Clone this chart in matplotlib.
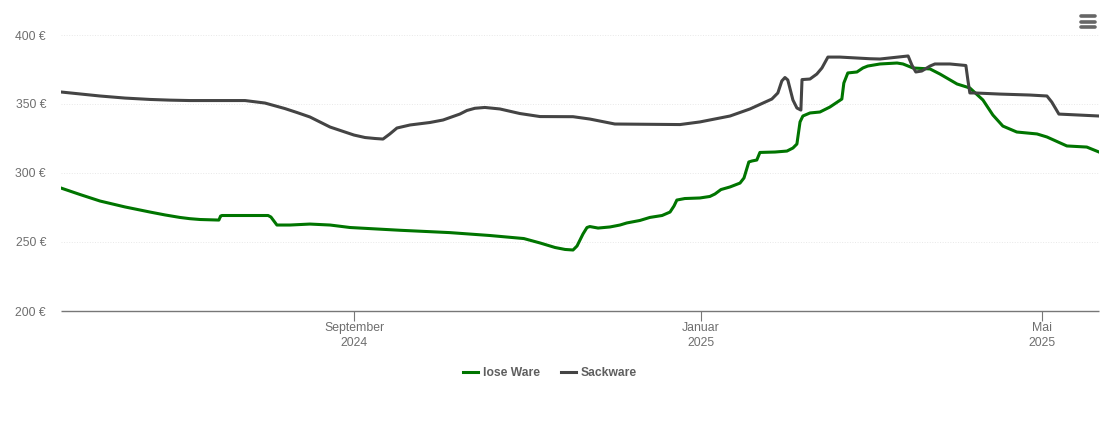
"""
plot.py

Price history for loose and bagged goods over one year.
"""
import datetime

import numpy as np
from matplotlib import pyplot as plt
from matplotlib import dates as mdates
from matplotlib.lines import Line2D

plt.rcParams["font.family"] = ["Liberation Sans", "DejaVu Sans"]

start_date = datetime.date(2024, 5, 21)

lose_days = [
    0, 6.7, 13.7, 22.5, 31.3, 36.6, 41.8, 45.3, 48.9, 55.5, 56.1, 56.6, 72.8, 73.8, 75.9, 80.5, 87.5, 94.6,
    101.6, 119.2, 136.7, 150.8, 162.7, 168.4, 173.7, 177.2, 180, 181.4, 183.5, 184.9,
    185.9, 188.8, 193, 196.5, 198.9, 203.5, 207, 211.3, 214.1, 215.5, 216.5, 219.3,
    224.6, 228.1, 229.9, 232, 235.2, 238.7, 240.1, 241.8, 242.9, 244.6, 245.7, 251,
    255.2, 257.3, 258.7, 259.8, 260.8, 263.3, 266.8, 270.3, 274.5, 275.2, 276.6, 279.8,
    281.9, 283.6, 287.9, 293.9, 296, 299.5, 305.5, 309, 315, 319.5, 324.1, 327.6,
    331.1, 336, 343.1, 346.6, 353.6, 360.6, 364.9,
]
lose_prices = [
    289.1, 284.4, 279.7, 275.4, 271.7, 269.6, 267.8, 266.9, 266.3, 265.9, 268.8, 269.2, 269.2, 268.1, 262.3, 262.3, 263.0, 262.3,
    260.5, 258.5, 256.8, 254.7, 252.5, 249.3, 246.0, 244.6, 244.2, 247.1, 255.8, 260.5,
    261.2, 260.1, 260.9, 262.3, 263.8, 265.6, 267.8, 269.2, 271.7, 276.1, 280.4, 281.5,
    281.9, 283.0, 284.8, 288.0, 289.9, 292.7, 296.4, 308.0, 308.7, 309.4, 314.9, 315.2,
    315.9, 318.1, 321.0, 337.0, 341.3, 343.5, 344.2, 347.8, 353.6, 365.2, 372.5, 373.2,
    376.1, 377.5, 379.0, 379.7, 379.0, 376.1, 375.4, 371.7, 364.5, 361.6, 352.9, 342.0,
    334.0, 329.7, 328.3, 326.1, 319.6, 318.8, 315.2,
]

sack_days = [
    0, 13.7, 22.5, 31.3, 38.3, 45.3, 64.7, 71.7, 78.7, 83, 87.5, 91, 94.6, 98.8, 103, 106.9, 110.4, 113.2, 115.6, 118.1,
    122.7, 129.7, 134.3, 140.2, 142.7, 145.5, 149, 154.3, 161.3, 168.4, 180, 185.9, 194.7,
    217.6, 224.6, 235.2, 242.2, 249.9, 252, 253.4, 254.5, 255.5, 257.3, 258.7, 260.1,
    260.5, 263.3, 265.7, 267.5, 269.6, 273.8, 284.4, 287.9, 297.8, 299.1, 300.5, 302.6,
    305.5, 307.2, 312.5, 318.1, 318.8, 319.5, 321.3, 330, 340.6, 346.6, 348.3, 350.8, 364.9,
]
sack_prices = [
    358.7, 355.8, 354.3, 353.3, 352.8, 352.5, 352.5, 350.7, 346.7, 343.8, 340.6, 337.0, 333.3, 330.4, 327.5, 325.7, 325.0, 324.6, 328.3, 332.6,
    334.8, 336.6, 338.4, 342.7, 345.3, 346.9, 347.5, 346.4, 343.1, 340.9, 340.8, 339.1, 335.5,
    335.1, 337.0, 341.3, 346.4, 353.6, 358.0, 366.7, 369.2, 367.4, 352.9, 347.1, 345.6,
    367.7, 368.1, 371.7, 376.1, 384.0, 384.0, 382.8, 382.6, 384.8, 378.3, 373.2, 373.9,
    377.5, 379.0, 379.0, 377.9, 367.4, 358.0, 358.0, 357.2, 356.5, 355.8, 351.4, 342.7, 341.3,
]

y_ticks = [200, 250, 300, 350, 400]
x_tick_dates = [datetime.date(2024, 9, 1), datetime.date(2025, 1, 1), datetime.date(2025, 5, 1)]
x_tick_labels = ["September\n2024", "Januar\n2025", "Mai\n2025"]

GREEN = "#007500"
DARK = "#444444"
TEXT = "#6e6e6e"
W, H = 1110, 422

if __name__ == "__main__":
    fig = plt.figure(figsize=(W / 100, H / 100), dpi=100)
    ax = fig.add_axes([61 / W, 1 - 311 / H, (1099 - 61) / W, (311 - 35) / H])

    start_num = mdates.date2num(start_date)
    ax.plot(start_num + np.array(lose_days), lose_prices, color=GREEN, lw=2.2,
            solid_joinstyle="round", label="lose Ware")
    ax.plot(start_num + np.array(sack_days), sack_prices, color=DARK, lw=2.2,
            solid_joinstyle="round", label="Sackware")

    ax.set_xlim(start_num, start_num + 364.9)
    ax.set_ylim(200, 400)

    ax.set_yticks(y_ticks)
    ax.set_yticklabels([f"{v} €" for v in y_ticks])
    ax.tick_params(axis="y", length=0, pad=10.8, labelsize=8.7, labelcolor=TEXT)
    ax.set_xticks(mdates.date2num(x_tick_dates))
    ax.set_xticklabels(x_tick_labels, linespacing=1.3)
    ax.tick_params(axis="x", length=7.2, width=0.8, color="#777777", pad=1.0,
                   labelsize=8.8, labelcolor=TEXT)

    ax.grid(visible=True, which="major", axis="y", color="#e8e8e8", linestyle=":", linewidth=0.7)
    ax.set_axisbelow(True)

    for side in ["top", "left", "right"]:
        ax.spines[side].set_visible(False)
    ax.spines["bottom"].set_color("#777777")
    ax.spines["bottom"].set_linewidth(1.0)
    ax.spines["bottom"].set_capstyle("butt")

    # legend under the plot
    legend = fig.legend(
        loc="center", bbox_to_anchor=(550 / W, 1 - 373 / H), ncol=2, frameon=False,
        handlelength=1.25, handletextpad=0.42, columnspacing=1.7,
        prop={"weight": "bold", "size": 8.7},
    )
    for text in legend.get_texts():
        text.set_color("#5f5f5f")

    # menu icon, top right
    for y_px in [16, 21.5, 26.5]:
        fig.add_artist(Line2D([1081 / W, 1095 / W], [1 - y_px / H, 1 - y_px / H],
                              color="#666666", lw=2.6, solid_capstyle="round"))

    plt.savefig("out.png", dpi=100)
